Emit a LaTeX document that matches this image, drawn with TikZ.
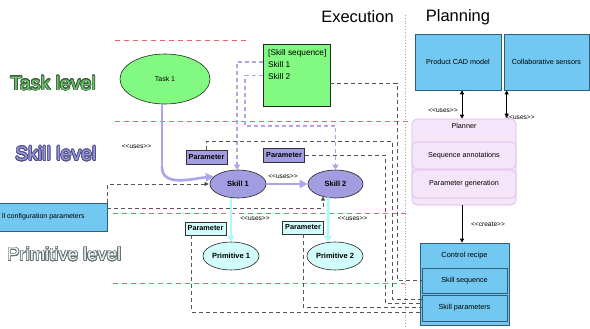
\documentclass[tikz,border=0pt]{standalone}
\usepackage{fontspec}
\setmainfont{Liberation Sans}[Ligatures=TeXOff]
\usepackage{contour}
\contourlength{0.7pt}
\contournumber{24}
\usetikzlibrary{arrows.meta,shapes.geometric,calc}
\definecolor{redl}{HTML}{F2606A}
\definecolor{dgray}{HTML}{555555}
\definecolor{lav}{HTML}{ABA5EC}
\definecolor{skillfill}{HTML}{A29CE0}
\definecolor{taskfill}{HTML}{82FA82}
\definecolor{cyanl}{HTML}{AAFBFB}
\definecolor{primfill}{HTML}{D2FCFC}
\definecolor{bluebox}{HTML}{72C8F0}
\definecolor{blueborder}{HTML}{2F5E78}
\definecolor{planfill}{HTML}{F4E6F8}
\definecolor{planborder}{HTML}{DCB8EA}
\definecolor{tlgreen}{HTML}{6CC46C}
\definecolor{tlgreenout}{HTML}{3E5E3E}
\definecolor{sllav}{HTML}{9C96DC}
\definecolor{sllavout}{HTML}{505088}
\definecolor{plcyan}{HTML}{EEF8F8}
\definecolor{plcyanout}{HTML}{667272}
\tikzset{
  ell/.style={ellipse, draw=black!85, line width=0.6pt, inner sep=0pt},
  elltxt/.style={font=\fontsize{7.5}{9}\selectfont\bfseries},
  parbox/.style={rectangle, draw=black!80, line width=0.6pt, inner sep=0pt,
     minimum width=41pt, minimum height=14pt, font=\fontsize{7.3}{9}\selectfont\bfseries},
  bluebx/.style={rectangle, draw=blueborder, line width=0.7pt, fill=bluebox, inner sep=0pt,
     font=\fontsize{7.2}{9}\selectfont},
  planbx/.style={rectangle, rounded corners=5pt, draw=planborder, line width=0.6pt, fill=planfill,
     inner sep=0pt, font=\fontsize{7.2}{9}\selectfont},
  usestxt/.style={font=\fontsize{6.6}{8}\selectfont, inner sep=0pt},
  reddash/.style={draw=redl, line width=0.8pt, dash pattern=on 5pt off 4pt},
  gdash/.style={draw=dgray, line width=0.8pt, dash pattern=on 4pt off 3pt},
  gdasharrow/.style={gdash, -{Triangle[length=4pt,width=4pt,fill=black]}},
  lavdash/.style={draw=lav, line width=1.2pt, dash pattern=on 4pt off 3pt,
     -{Triangle[length=5pt,width=6pt]}},
  lavthick/.style={draw=lav, line width=2.6pt, -{Triangle[length=8pt,width=8pt]}},
  cyanarrow/.style={draw=cyanl, line width=2.6pt, -{Triangle[length=6pt,width=7pt]}},
  blackarrow/.style={draw=black, line width=0.7pt, -{Triangle[length=4pt,width=4pt]}},
  blackdbl/.style={draw=black, line width=0.7pt, {Triangle[length=4pt,width=4pt]}-{Triangle[length=4pt,width=4pt]}},
  leveltxt/.style={anchor=west, inner sep=0pt, font=\fontsize{19.5}{22}\selectfont},
  titletxt/.style={inner sep=0pt, font=\fontsize{16.5}{19}\selectfont}
}
\begin{document}
\begin{tikzpicture}[x=1pt,y=-1pt]
\useasboundingbox[fill=white] (0,0) rectangle (590,329);

% red level separators and dotted divider
\draw[reddash] (115,40) -- (248,40);
\draw[reddash] (115,121) -- (408,121);
\draw[reddash] (113,213.5) -- (408,213.5);
\draw[reddash] (113,283) -- (405,283);
\draw[draw=gray!70, line width=0.8pt, dotted] (405,15) -- (405,329);

% titles
\node[titletxt] (exec) at (357.5,17) {Execution};
\node[titletxt] (plan) at (458,17) {Planning};

% level labels
\node[leveltxt, text=tlgreen] (tasklvl) at (10,83.5) {\contour{tlgreenout}{Task level}};
\node[leveltxt, text=sllav] (skilllvl) at (15,154) {\contour{sllavout}{Skill level}};
\node[leveltxt, text=plcyan, font=\fontsize{18.5}{22}\selectfont] (primlvl) at (7,254.5) {\contour{plcyanout}{Primitive level}};

% execution nodes
\node[ell, fill=taskfill, minimum width=90pt, minimum height=50pt, font=\fontsize{7}{8}\selectfont] (task) at (165,79) {Task 1};
\node[rectangle, draw=black!85, line width=0.6pt, fill=taskfill, minimum width=67pt, minimum height=62pt] (seq) at (296.5,75) {};
\node[anchor=north west, align=left, inner sep=0pt, font=\fontsize{8.3}{12.2}\selectfont] (seqtxt) at (268,49) {[Skill sequence]\\Skill 1\\Skill 2};

\node[ell, fill=skillfill, minimum width=56pt, minimum height=28pt, elltxt] (skill1) at (238,184) {Skill 1};
\node[ell, fill=skillfill, minimum width=55pt, minimum height=28pt, elltxt] (skill2) at (335.5,184) {Skill 2};
\node[ell, fill=primfill, minimum width=56pt, minimum height=28pt, elltxt] (prim1) at (231,256) {Primitive 1};
\node[ell, fill=primfill, minimum width=56pt, minimum height=28pt, elltxt] (prim2) at (335,256) {Primitive 2};

\node[parbox, fill=skillfill] (parA) at (206.5,157) {Parameter};
\node[parbox, fill=skillfill] (parB) at (284,155.5) {Parameter};
\node[parbox, fill=primfill, minimum height=13pt] (parC) at (205.5,228.5) {Parameter};
\node[parbox, fill=primfill, minimum height=13pt] (parD) at (303,227.5) {Parameter};

\node[bluebx, minimum width=108pt, minimum height=28pt] (cfg) at (53,217) {};
\node[anchor=west, inner sep=0pt, font=\fontsize{7}{8}\selectfont] (cfgtxt) at (2,217) {ll configuration parameters};

% planning nodes
\node[bluebx, minimum width=86pt, minimum height=56pt] (cad) at (458,62) {Product CAD model};
\node[bluebx, minimum width=85pt, minimum height=56pt] (sens) at (546.5,62) {Collaborative sensors};
\node[planbx, minimum width=104pt, minimum height=86pt] (planner) at (464,162) {};
\node[inner sep=0pt, font=\fontsize{7.2}{9}\selectfont] (plannertxt) at (464,125.5) {Planner};
\node[planbx, minimum width=104pt, minimum height=27pt] (seqann) at (464,155.5) {Sequence annotations};
\node[planbx, minimum width=104pt, minimum height=28pt] (pargen) at (464,184) {Parameter generation};

\node[bluebx, minimum width=89pt, minimum height=82pt] (recipe) at (464.5,284) {};
\node[inner sep=0pt, font=\fontsize{7.4}{9}\selectfont] (recipetxt) at (464.5,255.5) {Control recipe};
\node[bluebx, minimum width=85pt, minimum height=25pt] (rseq) at (464.5,280.5) {Skill sequence};
\node[bluebx, minimum width=85pt, minimum height=26pt] (rpar) at (464.5,308) {Skill parameters};

% uses labels
\node[usestxt] (u1) at (136.5,147) {<<uses>>};
\node[usestxt] (u2) at (283,176.5) {<<uses>>};
\node[usestxt] (u3) at (255,219) {<<uses>>};
\node[usestxt] (u4) at (352.5,219) {<<uses>>};
\node[usestxt] (u5) at (443,111) {<<uses>>};
\node[usestxt] (u6) at (520,117.5) {<<uses>>};
\node[usestxt] (u7) at (488,224) {<<create>>};

% lavender dashed references from the skill sequence
\coordinate (s1) at (seq.west |- 0,62);
\coordinate (s2) at (seq.west |- 0,75.5);
\draw[lavdash] (s1) -| ($(skill1.north)+(-1,0)$);
\draw[lavdash] (s2) -| (245,126) -| (skill2.north);

% thick lavender flow
\draw[lavthick, -] ($(task.south)+(-3,0)$) -- (162,168);
\draw[lavthick] (162,167) to[out=-90,in=185] (skill1.163);
\draw[lavthick] (skill1.east) -- (skill2.west);

% cyan uses
\draw[cyanarrow] (skill1.south -| prim1.north) -- (prim1.north);
\draw[cyanarrow] ($(skill2.south)+(-7,-1)$) -- ($(prim2.north)+(-7,0.5)$);

% grey dashed data links
\coordinate (q1) at (seq.east |- 0,83);
\coordinate (rp1) at (rpar.west |- 0,299);
\coordinate (rp2) at (rpar.west |- 0,303.5);
\coordinate (rp3) at (rpar.west |- 0,307.5);
\coordinate (rp4) at (rpar.west |- 0,312);
\coordinate (cpA) at ($(parC.south west)+(7,0)$);
\coordinate (k2) at (323,196.5);
\draw[gdash] (q1) -- (397,83) |- (rseq.west);
\draw[gdash] (parA.north) |- (392,141) |- (rp1);
\draw[gdash] (parB.east) -| (385,303.5) -- (rp2);
\draw[gdash] (parD.south) |- (rp3);
\draw[gdash] (cpA) |- (rp4);
\draw[gdasharrow] (cfg.north east) |- ($(skill1.west)+(-1,0)$);
\draw[gdasharrow] ($(cfg.north east)+(0,6)$) -| (k2);

% planning arrows
\coordinate (cadA) at ($(cad.south)+(4,0)$);
\coordinate (sensA) at ($(sens.south west)+(3,0)$);
\draw[blackdbl] (cadA) -- (cadA |- planner.north);
\draw[blackdbl] (sensA) -- ($(sensA |- planner.north)+(0,-1)$);
\draw[blackarrow] ($(planner.south)+(-2,0)$) -- ($(recipe.north)+(-2.5,0)$);
\end{tikzpicture}
\end{document}
